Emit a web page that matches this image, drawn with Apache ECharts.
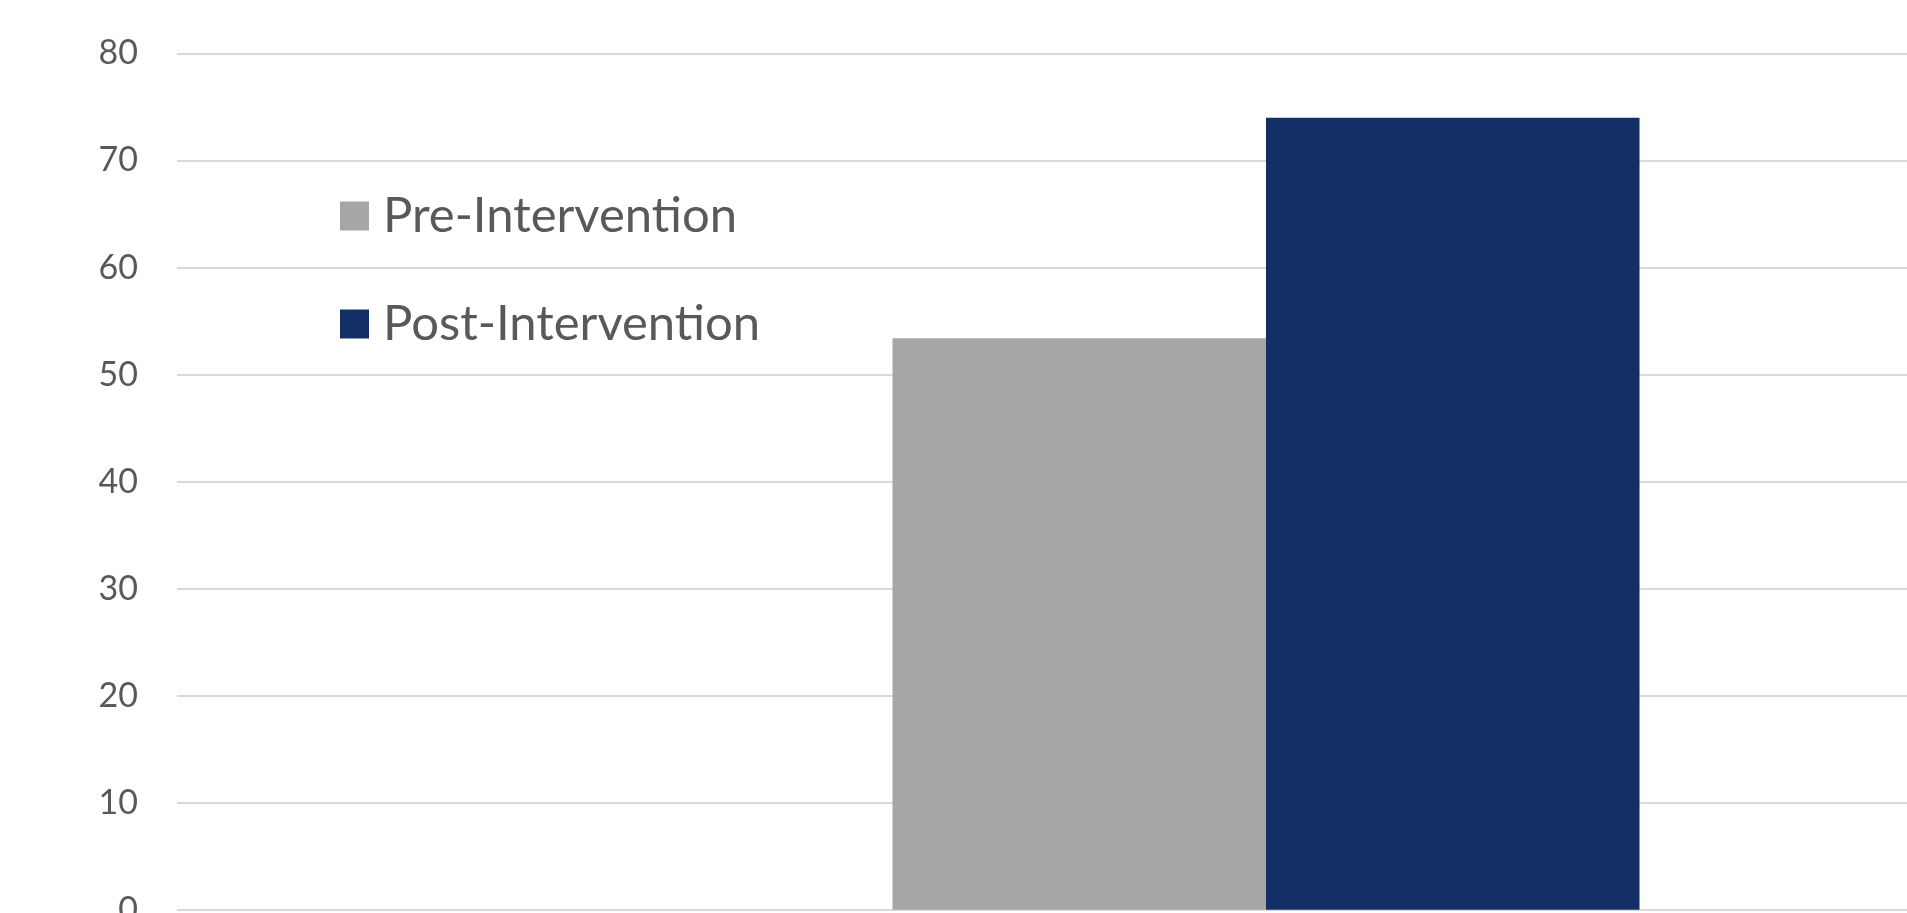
<!DOCTYPE html>
<html>
<head>
<meta charset="utf-8">
<script src="https://cdn.jsdelivr.net/npm/echarts@6/dist/echarts.min.js"></script>
<style>html,body{margin:0;padding:0;background:#fff;}#c{width:1907px;height:913px;}</style>
</head>
<body>
<div id="c"></div>
<script>
var categories = [''];
var seriesNames = ['Pre-Intervention', 'Post-Intervention'];
var preValues = [53.4];
var postValues = [74.0];
var yTicks = {min: 0, max: 80, interval: 10};

var chart = echarts.init(document.getElementById('c'), null, {renderer: 'canvas'});
chart.setOption({
  animation: false,
  backgroundColor: '#ffffff',
  grid: {left: 177, top: 53.5, height: 856.2, width: 2178, containLabel: false, outerBoundsMode: 'none'},
  legend: {
    orient: 'vertical',
    left: 335,
    top: 186,
    itemWidth: 29,
    itemHeight: 29,
    itemGap: 58,
    icon: 'rect',
    data: seriesNames,
    textStyle: {fontFamily: 'Lato', fontSize: 49, color: '#595959', lineHeight: 50, padding: [0, 0, 0, 9]}
  },
  xAxis: {
    type: 'category',
    data: categories,
    axisLine: {show: false},
    axisTick: {show: false},
    axisLabel: {show: false}
  },
  yAxis: {
    type: 'value',
    min: yTicks.min,
    max: yTicks.max,
    interval: yTicks.interval,
    axisLine: {show: false},
    axisTick: {show: false},
    axisLabel: {fontFamily: 'Lato', fontSize: 34, color: '#595959', margin: 39},
    splitLine: {lineStyle: {color: '#d9d9d9', width: 2}}
  },
  series: [
    {name: seriesNames[0], type: 'bar', data: preValues, barGap: '0%', barCategoryGap: '65.7%', itemStyle: {color: '#a6a6a6'}},
    {name: seriesNames[1], type: 'bar', data: postValues, barGap: '0%', barCategoryGap: '65.7%', itemStyle: {color: '#142f66'}}
  ]
});
</script>
</body>
</html>
